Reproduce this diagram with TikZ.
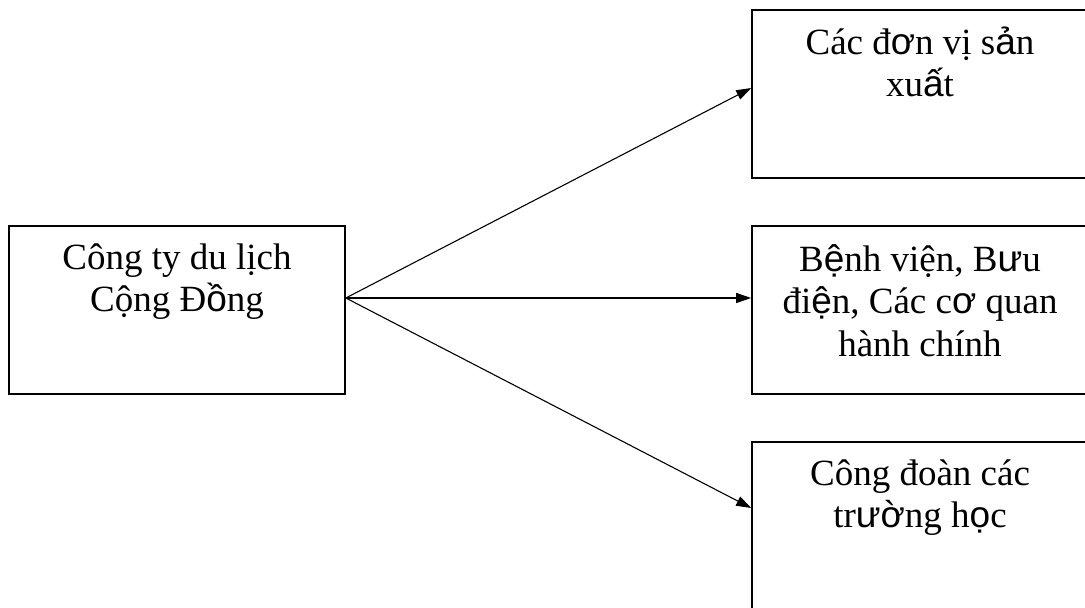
\documentclass[tikz,border=0pt]{standalone}
\usepackage{fontspec}
\setmainfont{Liberation Serif}
\newfontfamily\vsans{Liberation Sans}
\newcommand{\vs}[1]{{\vsans #1}}
\usetikzlibrary{arrows.meta}
\begin{document}
\begin{tikzpicture}[x=1bp,y=-1bp,
  boxnode/.style={draw, line width=1.6bp, minimum width=336bp, minimum height=168bp, inner sep=0pt},
  txt/.style={font=\fontsize{37bp}{42bp}\selectfont, align=center, anchor=base, inner sep=0pt},
  arr/.style={line width=1.1bp, -{Triangle[length=15bp,width=10bp]}}]
\useasboundingbox (0,0) rectangle (1085,608);
% boxes
\node[boxnode] (src) at (177,310) {};
\node[boxnode, minimum width=337bp] (b1) at (920.5,94) {};
\node[boxnode, minimum width=337bp] (b2) at (920.5,310) {};
\node[boxnode, minimum width=337bp] (b3) at (920.5,526) {};
% texts (anchor = baseline of the last line)
\node[txt] (tsrc) at (177,312) {Công ty du lịch\\Cộng Đ\vs{ồ}ng};
\node[txt] (t1) at (920,97) {Các đ\vs{ơ}n vị s\vs{ả}n\\xu\vs{ấ}t};
\node[txt] (t2) at (920,356) {B\vs{ệ}nh viện, B\vs{ư}u\\đi\vs{ệ}n, Các c\vs{ơ} quan\\hành chính};
\node[txt] (t3) at (920,527) {Công đoàn các\\tr\vs{ư}\vs{ờ}ng h\vs{ọ}c};
% connector points
\coordinate (o) at (src.east |- 0,298);
\coordinate (e1) at (b1.west |- 0,88);
\coordinate (e2) at (b2.west |- 0,298);
\coordinate (e3) at (b3.west |- 0,508);
\draw[arr] (o) -- (e1);
\draw[arr] (o) -- (e2);
\draw[arr] (o) -- (e3);
\end{tikzpicture}
\end{document}
